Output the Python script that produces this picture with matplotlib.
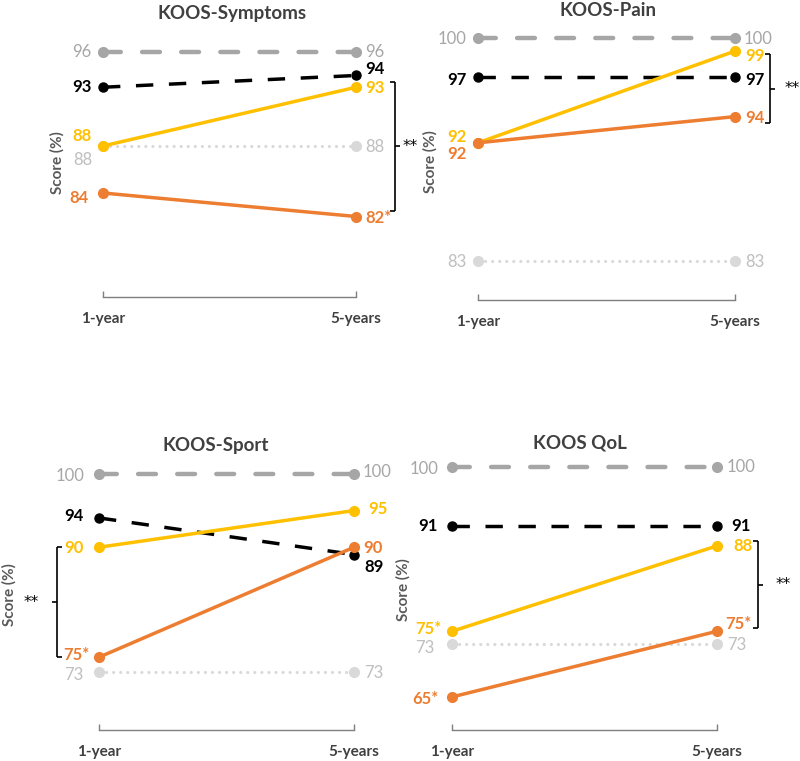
import matplotlib
matplotlib.use("Agg")
import matplotlib.pyplot as plt

plt.rcParams['font.family'] = ['Lato', 'DejaVu Sans']

W, H = 800, 761

timepoints = ["1-year", "5-years"]
titles = ["KOOS-Symptoms", "KOOS-Pain", "KOOS-Sport", "KOOS QoL"]

# series per panel: [1-year, 5-years]
ref_top = [[96, 96], [100, 100], [100, 100], [100, 100]]
black_grp = [[93, 94], [97, 97], [94, 89], [91, 91]]
yellow_grp = [[88, 93], [92, 99], [90, 95], [75, 88]]
orange_grp = [[84, 82], [92, 94], [75, 90], [65, 75]]
ref_low = [[88, 88], [83, 83], [73, 73], [73, 73]]

# label texts (asterisks as in the figure)
ref_top_lbl = [["96", "96"], ["100", "100"], ["100", "100"], ["100", "100"]]
black_lbl = [["93", "94"], ["97", "97"], ["94", "89"], ["91", "91"]]
yellow_lbl = [["88", "93"], ["92", "99"], ["90", "95"], ["75*", "88"]]
orange_lbl = [["84", "82*"], ["92", "94"], ["75*", "90"], ["65*", "75*"]]
ref_low_lbl = [["88", "88"], ["83", "83"], ["73", "73"], ["73", "73"]]

# ---- layout (pixels) ----
panels = [
    dict(x0=103, x1=356, top=40, bot=297, ylim=(75.15, 97.02)),
    dict(x0=478, x1=735, top=30, bot=300, ylim=(80.0, 100.61)),
    dict(x0=99, x1=354, top=460, bot=730, ylim=(65.07, 101.9)),
    dict(x0=452, x1=717, top=455, bot=730, ylim=(59.97, 101.83)),
]
title_pos = [(232, 13), (608, 11), (216, 446), (580, 443)]
ylabel_pos = [(57, 163), (430, 162), (9, 595), (403, 590)]

# label offsets in pixels (dx to nearest text edge, dy) for [left, right]
off_top = [[(-12, 0), (9, 0)], [(-12, -1), (9, -1)], [(-15, -2), (9, 2)], [(-14, -2), (10, 0)]]
off_black = [[(-11, 0), (9, 6)], [(-11, -3), (10, -3)], [(-15, 2), (10, -12)], [(-14, 0), (14, 0)]]
off_yellow = [[(-11, 10), (9, -1)], [(-11, 6), (10, -5)], [(-15, -1), (14, 2)], [(-10, 2), (16, 0)]]
off_orange = [[(-14, -5), (9, -1)], [(-11, -11), (10, -1)], [(-10, 2), (9, -1)], [(-13, -2), (8, 7)]]
off_low = [[(-11, -14), (9, -1)], [(-12, -1), (10, -1)], [(-16, -3), (10, -1)], [(-18, -4), (10, -1)]]

# brackets: x pixel, y1 value, y2 value, side, stars x pixel
brackets = [
    dict(xp=395, y1=93.45, y2=82.47, side='right', sx=410),
    dict(xp=770, y1=98.78, y2=93.5, side='right', sx=792),
    dict(xp=57, y1=90.0, y2=75.0, side='left', sx=31),
    dict(xp=758, y1=88.7, y2=75.5, side='right', sx=783),
]

C_GRAY = '#A6A6A6'
C_LIGHT = '#D9D9D9'
C_LIGHT_TXT = '#BFBFBF'
C_BLACK = '#000000'
C_YEL = '#FFC000'
C_ORA = '#ED7D31'
C_TITLE = '#404040'

fig = plt.figure(figsize=(W / 100, H / 100), dpi=100)

for i, p in enumerate(panels):
    left = p['x0'] / W
    width = (p['x1'] - p['x0']) / W
    bottom = 1 - p['bot'] / H
    height = (p['bot'] - p['top']) / H
    ax = fig.add_axes([left, bottom, width, height])
    ax.set_xlim(0, 1)
    ax.set_ylim(*p['ylim'])
    ax.patch.set_alpha(0)
    for s in ['top', 'right', 'left']:
        ax.spines[s].set_visible(False)
    ax.spines['bottom'].set_color('#7F7F7F')
    ax.spines['bottom'].set_linewidth(1.0)
    ax.set_yticks([])
    ax.set_xticks([0, 1])
    ax.set_xticklabels(timepoints, fontsize=11, fontweight='bold', color='#404040')
    ax.tick_params(axis='x', direction='in', length=4, width=1.0, color='#7F7F7F', pad=11)

    xs = [0, 1]
    ax.plot(xs, ref_low[i], color=C_LIGHT, lw=2.3, linestyle=(0, (0.01, 2.2)),
            dash_capstyle='round', marker='o', ms=7, zorder=2, clip_on=False)
    ax.plot(xs, ref_top[i], color=C_GRAY, lw=3.2, linestyle=(0, (4.0, 4.8)),
            dash_capstyle='round', marker='o', ms=7, zorder=2, clip_on=False)
    ax.plot(xs, black_grp[i], color=C_BLACK, lw=2.5, linestyle=(0, (5.0, 4.5)),
            dash_capstyle='butt', marker='o', ms=6.5, zorder=3, clip_on=False)
    ax.plot(xs, yellow_grp[i], color=C_YEL, lw=2.5, marker='o', ms=7, zorder=4, clip_on=False)
    ax.plot(xs, orange_grp[i], color=C_ORA, lw=2.5, marker='o', ms=7, zorder=5, clip_on=False)

    groups = [
        (ref_top[i], ref_top_lbl[i], off_top[i], C_GRAY, 'normal'),
        (black_grp[i], black_lbl[i], off_black[i], C_BLACK, 'bold'),
        (yellow_grp[i], yellow_lbl[i], off_yellow[i], C_YEL, 'bold'),
        (orange_grp[i], orange_lbl[i], off_orange[i], C_ORA, 'bold'),
        (ref_low[i], ref_low_lbl[i], off_low[i], C_LIGHT_TXT, 'normal'),
    ]
    for vals, lbls, offs, col, fw in groups:
        for j in range(2):
            ax.annotate(lbls[j], xy=(xs[j], vals[j]), xytext=offs[j],
                        textcoords='offset pixels', ha='right' if j == 0 else 'left',
                        va='center', fontsize=12, color=col, fontweight=fw,
                        annotation_clip=False)

    # title and y label
    tx, ty = title_pos[i]
    fig.text(tx / W, 1 - ty / H, titles[i], ha='center', va='center',
             fontsize=13.5, fontweight='bold', color=C_TITLE)
    lx, ly = ylabel_pos[i]
    fig.text(lx / W, 1 - ly / H, "Score (%)", ha='center', va='center',
             rotation=90, fontsize=11, fontweight='bold', color='#595959')

    # significance bracket
    b = brackets[i]
    bx = (b['xp'] - p['x0']) / (p['x1'] - p['x0'])
    tick = 5 / (p['x1'] - p['x0'])
    inward = -tick if b['side'] == 'right' else tick
    ym = (b['y1'] + b['y2']) / 2
    kw = dict(color='black', lw=1.2, clip_on=False, solid_capstyle='butt')
    ax.plot([bx, bx], [b['y1'], b['y2']], **kw)
    ax.plot([bx + inward, bx], [b['y1'], b['y1']], **kw)
    ax.plot([bx + inward, bx], [b['y2'], b['y2']], **kw)
    ax.plot([bx, bx - inward], [ym, ym], **kw)
    sx = (b['sx'] - p['x0']) / (p['x1'] - p['x0'])
    ax.text(sx, ym, "**", ha='center', va='center', fontsize=11,
            color='black', family=['DejaVu Sans'], clip_on=False)

fig.savefig("out.png", dpi=100)
